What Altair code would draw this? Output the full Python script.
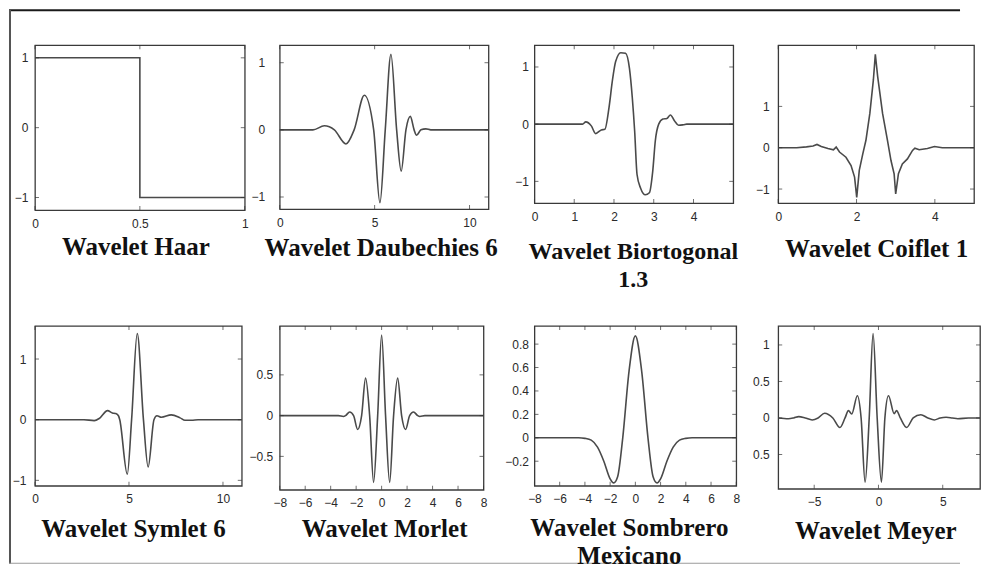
import altair as alt
import pandas as pd

# ---------------- data ----------------
TITLES = [
    "Wavelet Haar", "Wavelet Daubechies 6", ["Wavelet Biortogonal", "1.3"], "Wavelet Coiflet 1",
    "Wavelet Symlet 6", "Wavelet Morlet", ["Wavelet Sombrero", "Mexicano"], "Wavelet Meyer",
]

HAAR_X = [0, 0.5, 0.5, 1]
HAAR_Y = [1, 1, -1, -1]

DB_X = [0, 1.75, 2.35, 2.88, 3.49, 3.92, 4.46, 4.95, 5.28, 5.56, 5.86, 6.16, 6.4, 6.65, 6.88, 7.08, 7.21, 7.44, 7.7, 7.96, 11]
DB_Y = [0, 0, 0.06, 0, -0.21, 0, 0.515, 0, -1.085, 0, 1.125, 0, -0.615, 0, 0.2, 0, -0.08, 0, 0.015, 0, 0]

BI_X = [0, 1.21, 1.29, 1.43, 1.54, 1.68, 1.77, 1.875, 1.96, 2.04, 2.17, 2.29, 2.39, 2.46, 2.52, 2.58,
        2.67, 2.79, 2.89, 2.975, 3.04, 3.125, 3.23, 3.33, 3.42, 3.52, 3.625, 3.75, 3.83, 5]
BI_Y = [0, 0, 0.04, -0.03, -0.165, -0.1, -0.09, 0.29, 0.76, 1.09, 1.25, 1.24, 0.97, 0.47, -0.12, -0.88,
        -1.12, -1.235, -1.2, -0.82, -0.29, 0, 0.09, 0.1, 0.16, 0.06, -0.02, -0.01, 0, 0]

CO_X = [0, 0.47, 0.72, 0.89, 0.99, 1.1, 1.27, 1.41, 1.48, 1.565, 1.73, 1.86, 1.95, 2.005, 2.07, 2.16, 2.24,
        2.34, 2.43, 2.48, 2.54, 2.665, 2.79, 2.88, 2.96, 3.0, 3.07, 3.17, 3.3, 3.43, 3.49, 3.6, 3.81, 3.99, 4.19, 5]
CO_Y = [0, 0, 0.02, 0.04, 0.08, 0.03, -0.02, -0.05, 0.015, -0.105, -0.23, -0.43, -0.71, -1.2, -0.55, -0.15, 0.18,
        0.83, 1.64, 2.26, 1.72, 0.83, 0.18, -0.31, -0.63, -1.12, -0.63, -0.39, -0.27, -0.065, -0.01, -0.05, -0.02, 0.03, 0, 0]

SY_X = [0, 2.6, 3.15, 3.42, 3.86, 4.12, 4.3, 4.44, 4.51, 4.91, 5.14, 5.44, 5.77, 6.02, 6.33, 6.49, 6.72, 7.25, 7.72, 7.98, 8.33, 8.68, 11]
SY_Y = [0, 0, -0.015, 0.02, 0.15, 0.11, 0.1, 0.065, 0, -0.9, 0, 1.42, 0, -0.78, 0, 0.065, 0.04, 0.08, 0.03, -0.01, -0.01, 0, 0]

MO_X = [-8, -3.4, -3.0, -2.83, -2.51, -2.2, -1.88, -1.57, -1.26, -0.94, -0.63, -0.31, 0,
        0.31, 0.63, 0.94, 1.26, 1.57, 1.88, 2.2, 2.51, 2.83, 3.0, 3.4, 8]
MO_Y = [0, 0, -0.01, 0, 0.045, 0, -0.17, 0, 0.46, 0, -0.82, 0, 0.99,
        0, -0.82, 0, 0.46, 0, -0.17, 0, 0.045, 0, -0.01, 0, 0]

SO_X = [-8, -4.5, -4.0, -3.5, -3.0, -2.5, -2.0, -1.72, -1.4, -1.0, -0.5, 0, 0.5, 1.0, 1.4, 1.72, 2.0, 2.5, 3.0, 3.5, 4.0, 4.5, 8]
SO_Y = [0, 0, -0.005, -0.02, -0.08, -0.2, -0.35, -0.385, -0.33, 0, 0.57, 0.87, 0.57, 0, -0.33, -0.385, -0.35, -0.2, -0.08, -0.02, -0.005, 0, 0]

ME_X = [-7.8, -7.0, -6.6, -6.2, -5.7, -5.16, -4.7, -4.19, -3.55, -3.0, -2.6, -2.34, -2.08, -1.64, -1.35, -1.04, -0.72, -0.42,
        -0.1, 0.23, 0.5, 0.78, 1.22, 1.41, 1.7, 2.19, 2.7, 3.3, 3.85, 4.35, 4.8, 5.26, 5.75, 6.17, 7.0, 7.9]
ME_Y = [0, -0.01, 0, 0.018, 0, -0.027, 0, 0.065, 0, -0.13, 0, 0.1, 0.055, 0.305, 0, -0.88, 0, 1.155,
        0, -0.88, 0, 0.305, 0.06, 0.1, 0, -0.13, 0, 0.045, 0, -0.027, 0, 0.01, 0, -0.01, 0, 0]

# axis ticks
X_TICKS = [[0, 0.5, 1], [0, 5, 10], [0, 1, 2, 3, 4], [0, 2, 4],
           [0, 5, 10], [-8, -6, -4, -2, 0, 2, 4, 6, 8], [-8, -6, -4, -2, 0, 2, 4, 6, 8], [-5, 0, 5]]
Y_TICKS = [[-1, 0, 1], [-1, 0, 1], [-1, 0, 1], [-1, 0, 1],
           [-1, 0, 1], [-0.5, 0, 0.5], [-0.2, 0, 0.2, 0.4, 0.6, 0.8], [-0.5, 0, 0.5, 1]]
X_DOMAINS = [[0, 1], [0, 11], [0, 5], [0, 5], [0, 11], [-8, 8], [-8, 8], [-7.8, 7.9]]
Y_DOMAINS = [[-1.18, 1.18], [-1.18, 1.26], [-1.38, 1.38], [-1.34, 2.48],
             [-1.09, 1.545], [-0.91, 1.1], [-0.41, 0.955], [-0.97, 1.26]]

SERIES = [(HAAR_X, HAAR_Y), (DB_X, DB_Y), (BI_X, BI_Y), (CO_X, CO_Y),
          (SY_X, SY_Y), (MO_X, MO_Y), (SO_X, SO_Y), (ME_X, ME_Y)]

# ---------------- styling / layout ----------------
INTERP = ["linear", "monotone", "monotone", "linear", "monotone", "monotone", "monotone", "monotone"]
WIDTHS = [210, 209, 199, 196, 207, 204, 202, 202]
HEIGHTS = [165, 164, 158, 158, 160, 164, 160, 163]
YPAD = [7, 15, 6, 9, 9, 7, 6, 9]
LSIZE = [12, 12, 12, 12, 12, 12, 12, 12]
TITLE_POS = [(101, 189.5), (101.5, 190.5), (99, 194.5), (98.5, 191.5),
             (98.6, 191.5), (105, 191.5), (95, 190.5), (97.7, 193.5)]
TITLE_SIZE = [25, 25, 24, 25, 25, 25, 25, 25]
GAPS = [2, 35, 46, 42]          # spacer columns shared by both rows

LINE_COLOR = "#4a4a4a"
LABEL_FONT = "Liberation Sans"
LABEL_COLOR = "#2a2a2a"


def panel(i):
    xs, ys = SERIES[i]
    w, h = WIDTHS[i], HEIGHTS[i]
    df = pd.DataFrame({"x": xs, "y": ys, "i": list(range(len(xs)))})
    yaxis_kw = dict(values=Y_TICKS[i], title=None, grid=False, ticks=False, domain=False,
                    labelFont=LABEL_FONT, labelFontSize=LSIZE[i], labelColor=LABEL_COLOR,
                    labelPadding=YPAD[i], labelOverlap=False, format="~r")
    if i == 7:
        yaxis_kw["labelExpr"] = "datum.value == -0.5 ? '0.5' : datum.label"
    X = alt.X("x:Q", scale=alt.Scale(domain=X_DOMAINS[i], nice=False, zero=False),
              axis=alt.Axis(values=X_TICKS[i], title=None, grid=False, ticks=False, domain=False,
                            labelFont=LABEL_FONT, labelFontSize=LSIZE[i], labelColor=LABEL_COLOR,
                            labelPadding=8, labelFlush=False, labelOverlap=False, format="~r"))
    Y = alt.Y("y:Q", scale=alt.Scale(domain=Y_DOMAINS[i], nice=False, zero=False),
              axis=alt.Axis(**yaxis_kw))
    line = alt.Chart(df).mark_line(color=LINE_COLOR, strokeWidth=1.6, interpolate=INTERP[i]).encode(
        x=X, y=Y, order="i:Q")
    xt = pd.DataFrame({"x": X_TICKS[i]})
    yt = pd.DataFrame({"y": Y_TICKS[i]})
    tk = dict(color="#333333", size=4, thickness=1)
    tb = alt.Chart(xt).mark_tick(orient="vertical", **tk).encode(x=X, y=alt.value(h - 2))
    tt = alt.Chart(xt).mark_tick(orient="vertical", **tk).encode(x=X, y=alt.value(2))
    tl = alt.Chart(yt).mark_tick(orient="horizontal", **tk).encode(y=Y, x=alt.value(2))
    tr = alt.Chart(yt).mark_tick(orient="horizontal", **tk).encode(y=Y, x=alt.value(w - 2))
    tx, ty = TITLE_POS[i]
    title = alt.Chart(pd.DataFrame({"k": [0]})).mark_text(
        font="Liberation Serif", fontSize=TITLE_SIZE[i], fontWeight="bold", color="#111111",
        align="center", baseline="top", lineHeight=28).encode(
        x=alt.value(tx), y=alt.value(ty), text=alt.value(TITLES[i]))
    return alt.layer(line, tb, tt, tl, tr, title).properties(width=w, height=h)


def spacer(w, frame=False):
    base = alt.Chart(pd.DataFrame({"k": [0]}))
    pt = base.mark_point(opacity=0).encode(x=alt.value(0), y=alt.value(0))
    if not frame:
        return pt.properties(width=w, height=1, view=alt.ViewBackground(stroke="transparent"))
    # outer page frame: top (dark), left (grey), bottom (light grey) edges
    top = base.mark_rect(color="#1a1a1a").encode(
        x=alt.value(-24), x2=alt.value(928), y=alt.value(-36), y2=alt.value(-34))
    left = base.mark_rect(color="#555555").encode(
        x=alt.value(-24), x2=alt.value(-22), y=alt.value(-36), y2=alt.value(519))
    bottom = base.mark_rect(color="#9a9a9a").encode(
        x=alt.value(-24), x2=alt.value(928), y=alt.value(518), y2=alt.value(519))
    return alt.layer(pt, top, left, bottom).properties(
        width=w, height=1, view=alt.ViewBackground(stroke="transparent"))


cells = []
for r in range(2):
    for c in range(4):
        cells.append(spacer(GAPS[c], frame=(r == 0 and c == 0)))
        cells.append(panel(r * 4 + c))

chart = alt.concat(
    *cells, columns=8, spacing={"row": 116, "column": 0},
    align="each", bounds="flush",
).properties(padding=0, background="white").configure_view(
    stroke="#3a3a3a", strokeWidth=1.3)

chart.save("out.html", embed_options={"renderer": "svg", "actions": False})
